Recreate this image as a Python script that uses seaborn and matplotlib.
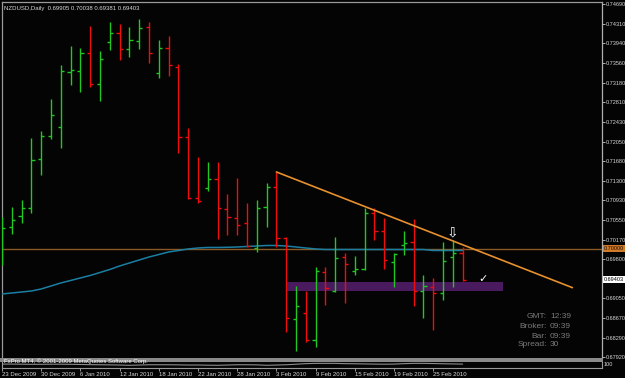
import matplotlib
matplotlib.use("Agg")
import matplotlib.pyplot as plt
import seaborn as sns
import pandas as pd
from matplotlib.patches import Rectangle

# ---------------- data (NZDUSD daily) ----------------
opens = [0.69742, 0.70413, 0.70624, 0.70777, 0.71717, 0.72158, 0.72331, 0.73386,
         0.73405, 0.73750, 0.73156, 0.73961, 0.74134, 0.73827, 0.73980, 0.74249,
         0.73367, 0.73846, 0.73482, 0.72139, 0.70969, 0.71161, 0.71333, 0.70758,
         0.70585, 0.70490, 0.70010, 0.70796, 0.71180, 0.70202, 0.68648, 0.68763,
         0.68246, 0.69550, 0.69185, 0.69837, 0.69569, 0.69607, 0.70681, 0.70336,
         0.69742, 0.70068, 0.70125, 0.69185, 0.69262, 0.69147, 0.69837, 0.69905]
highs = [0.70605, 0.70796, 0.70931, 0.72120, 0.72254, 0.72868, 0.73520, 0.73884,
         0.73846, 0.74268, 0.73789, 0.74345, 0.74306, 0.74249, 0.74402, 0.74345,
         0.74000, 0.74076, 0.73539, 0.72312, 0.71755, 0.71660, 0.71660, 0.71046,
         0.71353, 0.70873, 0.70931, 0.71257, 0.71468, 0.70221, 0.69281, 0.69185,
         0.69646, 0.69646, 0.70221, 0.69914, 0.69857, 0.70777, 0.70777, 0.70585,
         0.69914, 0.70336, 0.70566, 0.69492, 0.69435, 0.70125, 0.70164, 0.70038]
lows = [0.69684, 0.70279, 0.70490, 0.70681, 0.71410, 0.72101, 0.71928, 0.73136,
        0.73002, 0.73098, 0.72830, 0.73808, 0.73616, 0.73673, 0.73827, 0.73558,
        0.73271, 0.73309, 0.71832, 0.70950, 0.70873, 0.71103, 0.70183, 0.70259,
        0.70259, 0.70029, 0.69933, 0.70413, 0.70029, 0.68399, 0.68035, 0.68207,
        0.68111, 0.68917, 0.69166, 0.68955, 0.69492, 0.69588, 0.70164, 0.69607,
        0.69262, 0.69876, 0.68898, 0.68667, 0.68437, 0.69013, 0.69262, 0.69381]
closes = [0.70394, 0.70547, 0.70777, 0.71698, 0.72158, 0.72561, 0.73405, 0.73424,
          0.73750, 0.73156, 0.73635, 0.74134, 0.73827, 0.74000, 0.74230, 0.73750,
          0.73846, 0.73520, 0.72139, 0.70969, 0.70912, 0.71333, 0.70777, 0.70605,
          0.70451, 0.70048, 0.70777, 0.71180, 0.70202, 0.68667, 0.68898, 0.68246,
          0.69569, 0.69243, 0.69818, 0.69703, 0.69607, 0.70681, 0.70336, 0.69780,
          0.69895, 0.70106, 0.69185, 0.69281, 0.69147, 0.69761, 0.69914, 0.69403]
ma_values = [0.69128, 0.69147, 0.69166, 0.69185, 0.69224, 0.69281, 0.69339, 0.69387,
             0.69435, 0.69483, 0.69540, 0.69598, 0.69665, 0.69722, 0.69780, 0.69837,
             0.69885, 0.69933, 0.69962, 0.69991, 0.70010, 0.70020, 0.70020, 0.70023,
             0.70029, 0.70039, 0.70048, 0.70058, 0.70058, 0.70048, 0.70029, 0.70010,
             0.69991, 0.69981, 0.69981, 0.69981, 0.69981, 0.69981, 0.69981, 0.69981,
             0.69981, 0.69981, 0.69981, 0.69981, 0.69962, 0.69962, 0.69962, 0.69962]
indicator_values = [62, 62, 60, 58, 58, 60, 60, 58, 55, 52, 50, 48, 45, 40, 45, 50,
                    50, 50, 48, 45, 45, 42, 40, 45, 50, 50, 48, 40, 45, 50, 60, 70,
                    75, 75, 75, 70, 68, 65, 62, 60, 62, 70, 75, 75, 72, 68, 65, 62]
date_labels = ["23 Dec 2009", "30 Dec 2009", "6 Jan 2010", "12 Jan 2010",
               "18 Jan 2010", "22 Jan 2010", "28 Jan 2010", "3 Feb 2010",
               "9 Feb 2010", "15 Feb 2010", "19 Feb 2010", "25 Feb 2010"]
date_tick_bars = [0, 4, 8, 12, 16, 20, 24, 28, 32, 36, 40, 44]
price_ticks = [0.74690, 0.74310, 0.73940, 0.73560, 0.73180, 0.72810, 0.72430,
               0.72050, 0.71680, 0.71300, 0.70930, 0.70550, 0.70170, 0.69800,
               0.69050, 0.68670, 0.68290, 0.67920]
level_price = 0.70000
last_price = 0.69403
trend_bars = [28, 58.2]
trend_prices = [0.71468, 0.69249]
zone_bars = [29.05, 51.1]
zone_prices = [0.69185, 0.69358]
header = "NZDUSD,Daily  0.69905 0.70038 0.69381 0.69403"
info_labels = ["GMT:", "Broker:", "Bar:", "Spread:"]
info_values = ["12:39", "09:39", "09:39", "30"]

# ---------------- style ----------------
sns.set_theme(style="dark")
plt.rcParams["font.family"] = ["Liberation Sans", "DejaVu Sans"]
BG = "#040404"
GREEN = "#22c822"
RED = "#f20c0c"
FG = "#d8d8d8"

W, H = 625, 378
fig = plt.figure(figsize=(W / 100, H / 100), dpi=100, facecolor=BG)
ax = fig.add_axes([2 / W, 20 / H, 600 / W, 356 / H])
ax.set_facecolor(BG)
ax.set_xlim(0, 61.22)
ax.set_ylim(0.67900, 0.74728)

n = len(opens)
df = pd.DataFrame({"bar": range(n), "open": opens, "high": highs,
                   "low": lows, "close": closes, "ma": ma_values})
df["color"] = [GREEN if c >= o else RED for o, c in zip(opens, closes)]

# purple zone (behind bars)
ax.add_patch(Rectangle((zone_bars[0], zone_prices[0]), zone_bars[1] - zone_bars[0],
                       zone_prices[1] - zone_prices[0], facecolor="#4a1a5e",
                       edgecolor="none", zorder=1))
# horizontal level
ax.axhline(level_price, color="#8a5a26", lw=1.0, zorder=2)
# moving average
sns.lineplot(data=df, x="bar", y="ma", ax=ax, color="#1a7fa2", lw=1.1, zorder=3)
# OHLC bars
ax.vlines(df["bar"], df["low"], df["high"], colors=df["color"], lw=1.0, zorder=4)
ax.hlines(df["open"], df["bar"] - 0.33, df["bar"], colors=df["color"], lw=1.0, zorder=4)
ax.hlines(df["close"], df["bar"], df["bar"] + 0.33, colors=df["color"], lw=1.0, zorder=4)
# trend line
tl = pd.DataFrame({"bar": trend_bars, "price": trend_prices})
sns.lineplot(data=tl, x="bar", y="price", ax=ax, color="#e8902e", lw=1.2, zorder=5)

# annotations
ax.text(46.0, 0.70310, "\u21e9", color="white", fontsize=10, ha="center", va="center",
        family=["DejaVu Sans"], zorder=6)
ax.text(49.1, 0.69410, "\u2713", color="white", fontsize=8, ha="center", va="center",
        family=["DejaVu Sans"], zorder=6)

# axis formatting
for s in ["left", "top"]:
    ax.spines[s].set_color("#9a9a9a")
    ax.spines[s].set_linewidth(0.9)
ax.spines["right"].set_color("#b0b0b0")
ax.spines["right"].set_linewidth(0.9)
ax.spines["bottom"].set_visible(False)
ax.grid(False)
ax.set_xlabel("")
ax.set_ylabel("")
ax.set_xticks([])
ax.yaxis.tick_right()
ax.set_yticks(price_ticks)
ax.set_yticklabels([f"{p:.5f}" for p in price_ticks])
ax.tick_params(axis="y", colors="#b0b0b0", labelcolor=FG, labelsize=4.0, length=2,
               width=0.7, pad=0.8, right=True, left=False)

# highlighted price boxes
ax.text(1.0035, level_price, f"{level_price:.5f}", transform=ax.get_yaxis_transform(),
        fontsize=4.0, color="#1a0a00", va="center", ha="left",
        bbox=dict(boxstyle="square,pad=0.15", fc="#d07a2a", ec="none"))
ax.text(1.0035, last_price, f"{last_price:.5f}", transform=ax.get_yaxis_transform(),
        fontsize=4.0, color="black", va="center", ha="left",
        bbox=dict(boxstyle="square,pad=0.15", fc="white", ec="none"))

# header
fig.text(4 / W, 1 - 8.5 / H, header, color=FG, fontsize=4.3, ha="left", va="center")

# info block
ys = [317, 327, 336, 345]
for lab, val, yy in zip(info_labels, info_values, ys):
    fig.text(547 / W, 1 - yy / H, lab, color="#7a7a7a", fontsize=6, ha="right",
             va="center")
    fig.text(550 / W, 1 - yy / H, val, color="#7a7a7a", fontsize=6, ha="left",
             va="center")

# indicator sub-window
fig.patches.append(Rectangle((0, (378 - 362) / H), 603 / W, 3.6 / H,
                             transform=fig.transFigure, facecolor="#8a8a8a",
                             edgecolor="none"))
fig.text(4 / W, 1 - 361.5 / H, "FxPro MT4, \u00a9 2001-2009 MetaQuotes Software Corp.",
         color="white", fontsize=4.3, ha="left", va="center")
sub = fig.add_axes([2 / W, (378 - 367.5) / H, 600 / W, 5.5 / H])
sub.set_facecolor(BG)
ind = pd.DataFrame({"bar": range(n), "v": indicator_values})
sns.lineplot(data=ind, x="bar", y="v", ax=sub, color="#8c8c8c", lw=0.8)
sub.set_xlim(0, 61.22)
sub.set_ylim(0, 100)
sub.set_xlabel("")
sub.set_ylabel("")
sub.grid(False)
for s in sub.spines.values():
    s.set_color("#9a9a9a")
    s.set_linewidth(0.8)
sub.spines["top"].set_visible(False)
sub.set_yticks([])
sub.set_xticks(date_tick_bars)
sub.set_xticklabels(date_labels, ha="left")
sub.tick_params(axis="x", colors="#9a9a9a", labelcolor=FG, labelsize=4.3,
                length=2, width=0.7, pad=1.5, bottom=True)
fig.text(604 / W, 1 - 364.5 / H, "100", color=FG, fontsize=4.0, ha="left", va="center")

fig.savefig("out.png", dpi=100, facecolor=BG)
